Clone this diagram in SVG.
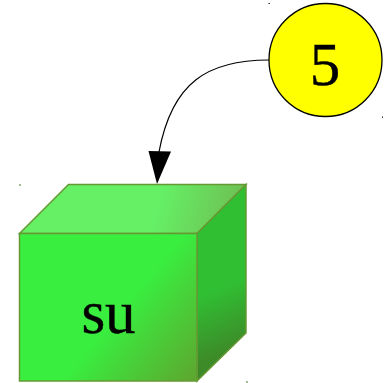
<svg xmlns="http://www.w3.org/2000/svg" width="388" height="383" viewBox="0 0 388 383">
<style>
.face{stroke:#669933;stroke-width:1.5;stroke-linejoin:miter}
.lbl{font-family:"Liberation Serif","Times New Roman",serif;font-size:61px;fill:#000;stroke:#000;stroke-width:.4;text-anchor:middle}
.dot{fill:#6b8e4a;opacity:.6}
</style>
<defs>
<linearGradient id="gf" gradientUnits="userSpaceOnUse" x1="19.500" y1="233.500" x2="197" y2="381"><stop offset="0" stop-color="#39ee3f"/><stop offset=".55" stop-color="#39ee3f"/><stop offset="1" stop-color="#5ea52f"/></linearGradient>
<linearGradient id="gt" gradientUnits="userSpaceOnUse" x1="68" y1="184.500" x2="246" y2="233.500"><stop offset="0" stop-color="#65f066"/><stop offset=".5" stop-color="#65f066"/><stop offset="1" stop-color="#70b850"/></linearGradient>
<linearGradient id="gs" gradientUnits="userSpaceOnUse" x1="197" y1="230" x2="246" y2="345"><stop offset="0" stop-color="#30bf33"/><stop offset=".5" stop-color="#30bf33"/><stop offset="1" stop-color="#3d8a28"/></linearGradient>
</defs>
<g id="connectors">
<path d="M269 60C208 60 172 82 159 152" fill="none" stroke="#000" stroke-width="1.2"/>
<polygon points="148.500,151 171,151.500 157,184"/>
</g>
<g id="node-su">
<polygon class="face" points="19.500,233.500 68.500,184.500 246,184.500 197,233.500" fill="url(#gt)"/>
<polygon class="face" points="197,233.500 246,184.500 246,333 197,381" fill="url(#gs)"/>
<rect class="face" x="19.500" y="233.500" width="177.500" height="147.500" fill="url(#gf)"/>
<text class="lbl" x="108.500" y="333">su</text>
</g>
<g id="node-5">
<circle cx="325.500" cy="60" r="56.500" fill="#ff0" stroke="#000" stroke-width="1.300"/>
<text class="lbl" x="325" y="85">5</text>
</g>
<rect class="dot" x="19" y="184" width="2" height="2"/>
<rect class="dot" x="246" y="381" width="2" height="2"/>
<rect x="268.500" y="3" width="1.500" height="1" fill="#333"/>
<rect x="382" y="116.500" width="1" height="1.500" fill="#333"/>
</svg>
